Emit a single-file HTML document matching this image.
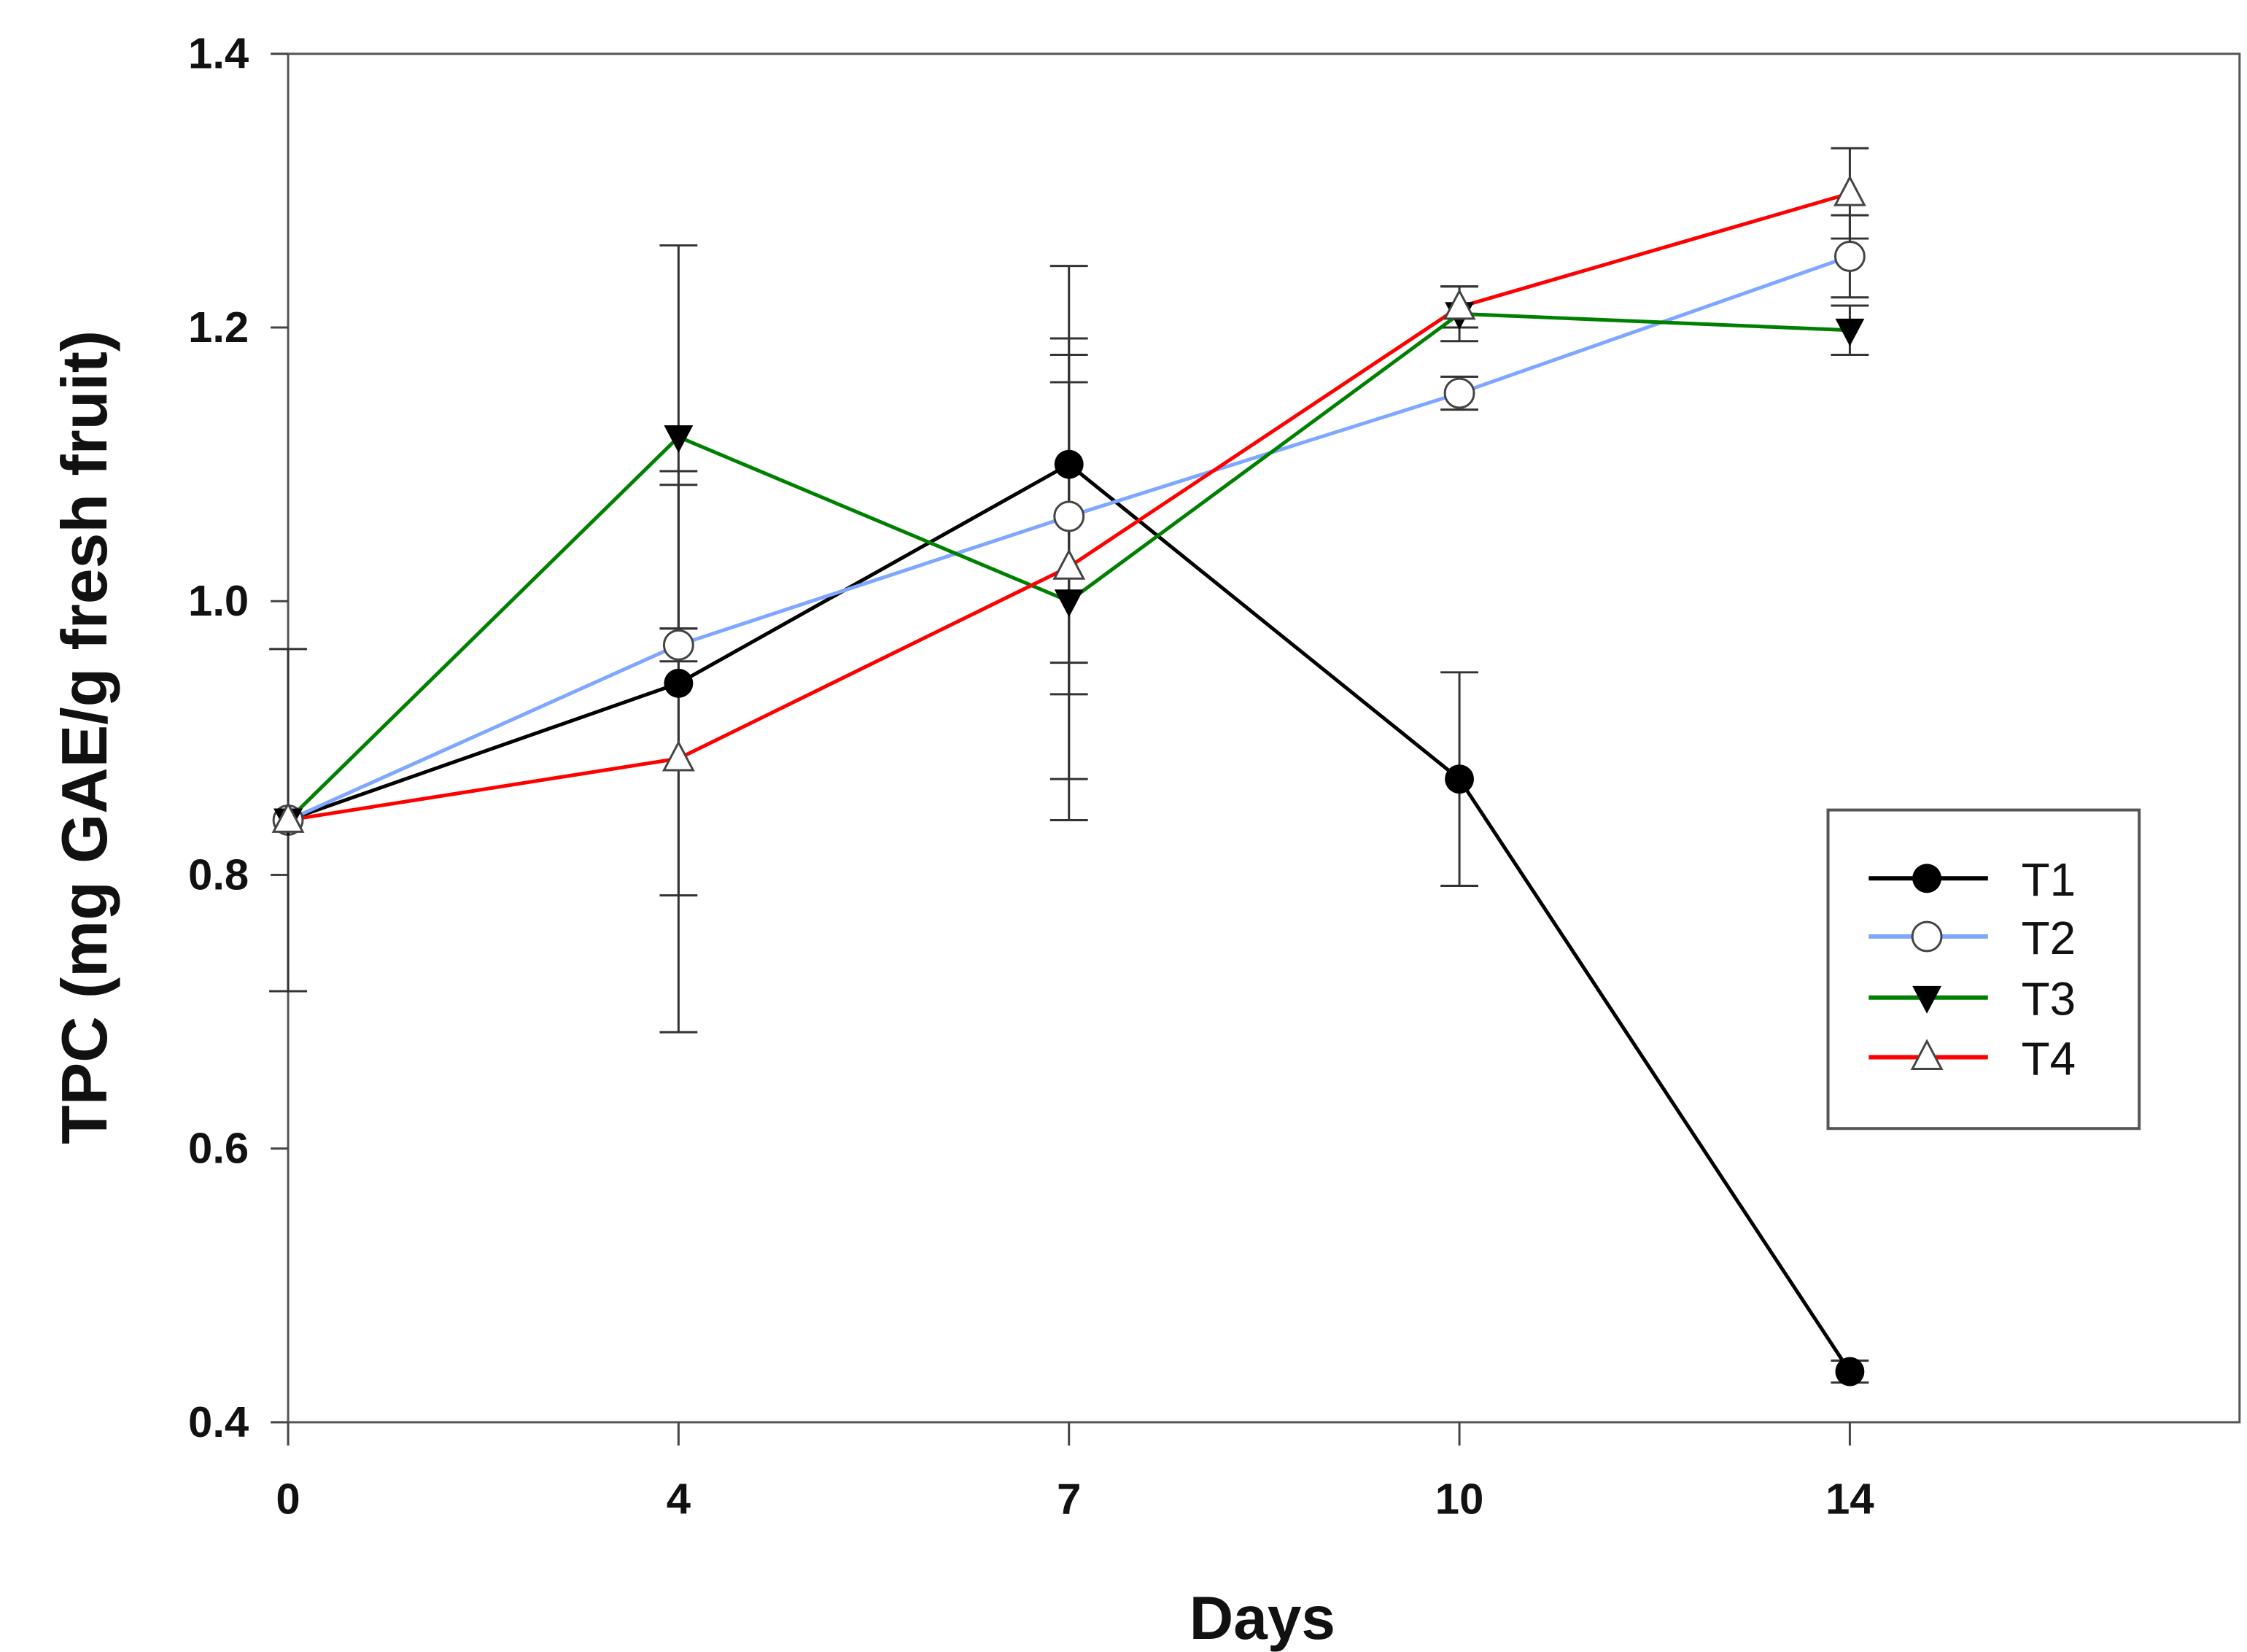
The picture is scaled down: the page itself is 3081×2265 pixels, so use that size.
<!DOCTYPE html>
<html><head><meta charset="utf-8"><style>
html,body{margin:0;padding:0;background:#fff}
svg{display:block}
text{font-family:"Liberation Sans",Arial,sans-serif}
</style></head><body>
<svg id="chart" width="3081" height="2265" viewBox="0 0 1545 1136" xmlns="http://www.w3.org/2000/svg">
<rect x="0" y="0" width="1545" height="1136" fill="#fff"/>
<g id="axes"></g>
<g id="series"></g>
<g id="legend"></g>
</svg>
<script>
const days = ["0","4","7","10","14"];
const yTicks = [0.4,0.6,0.8,1.0,1.2,1.4];
const yTickLabels = ["0.4","0.6","0.8","1.0","1.2","1.4"];
const seriesNames = ["T1","T2","T3","T4"];
const t1 = [0.84,0.94,1.10,0.87,0.437];
const t2 = [0.84,0.968,1.062,1.152,1.252];
const t3 = [0.84,1.12,1.0,1.21,1.198];
const t4 = [0.84,0.885,1.025,1.215,1.298];
const t1Err = [0.125,0.155,0.145,0.078,0.008];
const t2Err = [0.0,0.012,0.13,0.012,0.03];
const t3Err = [0.0,0.14,0.16,0.02,0.018];
const t4Err = [0.0,0.2,0.155,0.015,0.033];

const NS="http://www.w3.org/2000/svg";
const L=198,R=1540,T=37,B=978,step=268.5;
const xPos=i=>L+step*i;
const yPos=v=>B-(v-0.4)/1.0*(B-T);
function mk(tag,attrs,parent){const e=document.createElementNS(NS,tag);for(const k in attrs)e.setAttribute(k,attrs[k]);parent.appendChild(e);return e;}
const axes=document.getElementById('axes'),sg=document.getElementById('series'),lg=document.getElementById('legend');

let frame=mk('rect',{x:L,y:T,width:R-L,height:B-T,fill:'none',stroke:'#555','stroke-width':1.5},axes);


yTicks.forEach((v,i)=>{
  const y=yPos(v);
  const tk=mk('line',{x1:L-12,x2:L,y1:y,y2:y,stroke:'#444','stroke-width':1.5},axes);
  
  
  const t=mk('text',{x:L-27,y:y+10,'text-anchor':'end','font-size':30,'font-weight':'bold',fill:'#111'},axes);
  t.textContent=yTickLabels[i];
  
  
});
days.forEach((d,i)=>{
  const x=xPos(i);
  const tk=mk('line',{x1:x,x2:x,y1:B,y2:B+16,stroke:'#444','stroke-width':1.5},axes);
  
  
  const t=mk('text',{x:x,y:B+63,'text-anchor':'middle','font-size':30,'font-weight':'bold',fill:'#111'},axes);
  t.textContent=d;
  
  
});
let xt=mk('text',{x:868,y:1127,'text-anchor':'middle','font-size':42,'font-weight':'bold',fill:'#111'},axes);
xt.textContent='Days';


let yt=mk('text',{x:0,y:0,transform:'translate(73,507) rotate(-90)','text-anchor':'middle','font-size':44,'font-weight':'bold',fill:'#111'},axes);
yt.textContent='TPC (mg GAE/g fresh fruit)';



const colors=['#000','#7fa7ff','#008000','#ff0000'];
const data=[t1,t2,t3,t4];
const errs=[t1Err,t2Err,t3Err,t4Err];
function marker(k,x,y,parent,r){
  let m;
  if(k===0)m=mk('circle',{cx:x,cy:y,r:r,fill:'#000'},parent);
  else if(k===1)m=mk('circle',{cx:x,cy:y,r:r,fill:'#fff',stroke:'#444','stroke-width':1.5},parent);
  else if(k===2)m=mk('polygon',{points:`${x-r},${y-r*0.8} ${x+r},${y-r*0.8} ${x},${y+r*1.1}`,fill:'#000'},parent);
  else m=mk('polygon',{points:`${x-r},${y+r*0.8} ${x+r},${y+r*0.8} ${x},${y-r*1.1}`,fill:'#fff',stroke:'#444','stroke-width':1.5},parent);
  return m;
}
data.forEach((s,k)=>{
  errs[k].forEach((e,i)=>{
    if(e<=0)return;
    const x=xPos(i),y1=yPos(s[i]+e),y2=yPos(s[i]-e);
    const g=mk('g',{stroke:'#333','stroke-width':1.5},sg);
    
    
    mk('line',{x1:x,x2:x,y1:y1,y2:y2},g);
    mk('line',{x1:x-13,x2:x+13,y1:y1,y2:y1},g);
    mk('line',{x1:x-13,x2:x+13,y1:y2,y2:y2},g);
  });
});
data.forEach((s,k)=>{
  const pts=s.map((v,i)=>xPos(i)+','+yPos(v)).join(' ');
  const pl=mk('polyline',{points:pts,fill:'none',stroke:colors[k],'stroke-width':2.5},sg);
  
  
});
data.forEach((s,k)=>{
  s.forEach((v,i)=>{
    const m=marker(k,xPos(i),yPos(v),sg,10);
    
    
  });
});
let box=mk('rect',{x:1257,y:557,width:214,height:219,fill:'#fff',stroke:'#555','stroke-width':2},lg);


const ly=[604,644,686,727];
seriesNames.forEach((n,k)=>{
  const g=mk('g',{},lg);
  
  
  mk('line',{x1:1285,x2:1367,y1:ly[k],y2:ly[k],stroke:colors[k],'stroke-width':3},g);
  marker(k,1325,ly[k],g,10);
  const t=mk('text',{x:1390,y:ly[k]+12,'font-size':32,fill:'#111'},g);
  t.textContent=n;
});
</script>
</body></html>
